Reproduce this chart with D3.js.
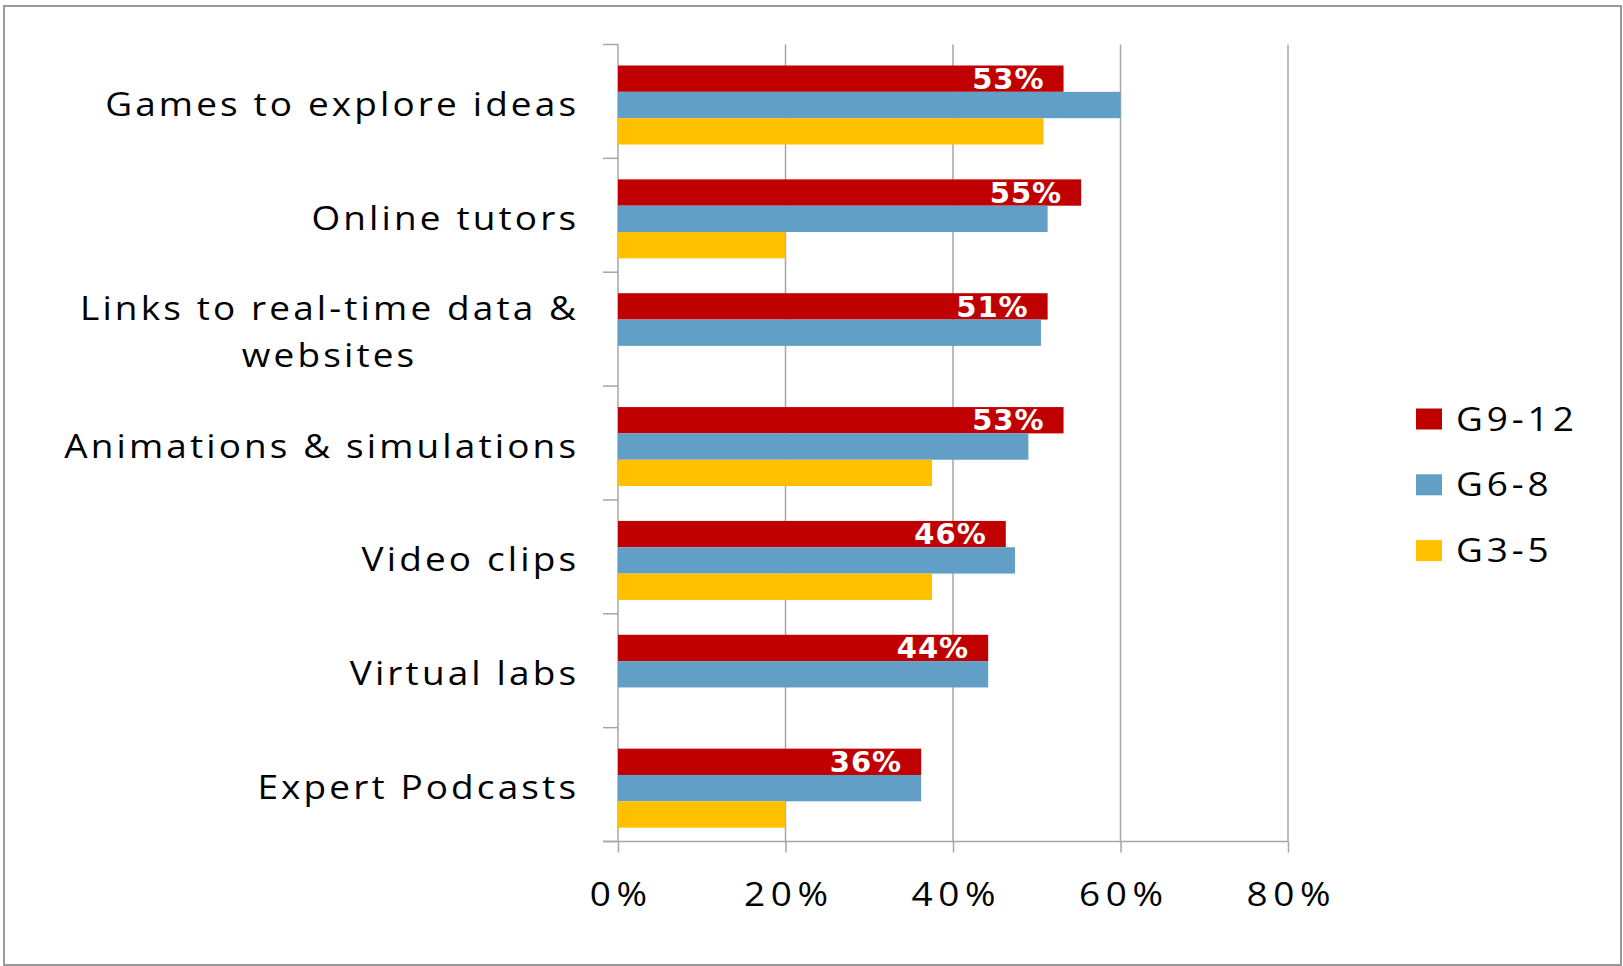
<!DOCTYPE html>
<html>
<head>
<meta charset="utf-8">
<script src="https://cdn.jsdelivr.net/npm/d3@7/dist/d3.min.js"></script>
<style>
  html, body { margin: 0; padding: 0; background: #fff; }
  svg { display: block; }
  .lbl { font-family: "Open Sans", "Noto Sans", sans-serif; fill: #000; }
</style>
</head>
<body>
<script>
// chart values
var categories = ["Games to explore ideas", "Online tutors", "Links to real-time data & websites",
  "Animations & simulations", "Video clips", "Virtual labs", "Expert Podcasts"];
var seriesNames = ["G9-12", "G6-8", "G3-5"];
var seriesColors = ["#c00000", "#619fc6", "#ffc000"];
var g912 = [0.532, 0.553, 0.513, 0.532, 0.463, 0.442, 0.362];
var g68 = [0.60, 0.513, 0.505, 0.49, 0.474, 0.442, 0.362];
var g35 = [0.508, 0.20, null, 0.375, 0.375, null, 0.20];
var xTicks = [0, 0.2, 0.4, 0.6, 0.8];

var W = 1623, H = 966;
var plotLeft = 618, plotRight = 1288, plotTop = 44.5, plotBottom = 841.5;
var gridColor = "#a6a6a6";
var stretch = 1.12; // text in the original is drawn a little wide

var svg = d3.select("body").append("svg")
    .attr("width", W)
    .attr("height", H);

// outer frame
svg.append("rect")
    .attr("x", 4).attr("y", 6)
    .attr("width", W - 6).attr("height", H - 7)
    .attr("fill", "none")
    .attr("stroke", "#9a9a9a")
    .attr("stroke-width", 2);

var x = d3.scaleLinear().domain([0, 0.8]).range([plotLeft, plotRight]);
var y = d3.scaleBand().domain(categories).range([plotTop, plotBottom]);
var inner = d3.scaleBand().domain(seriesNames).range([21, 100]);

// vertical gridlines
svg.append("g").selectAll("line")
    .data(xTicks.slice(1))
  .enter().append("line")
    .attr("x1", function(d) { return x(d); })
    .attr("x2", function(d) { return x(d); })
    .attr("y1", plotTop).attr("y2", plotBottom)
    .attr("stroke", gridColor).attr("stroke-width", 1.5);

// x axis
var xAxis = svg.append("g")
    .attr("transform", "translate(0," + plotBottom + ")")
    .call(d3.axisBottom(x).tickValues(xTicks).tickFormat(d3.format(".0%")).tickSize(11).tickPadding(30));
xAxis.select(".domain").attr("stroke", gridColor).attr("stroke-width", 1.5)
    .attr("d", "M" + (plotLeft - 15) + ",0H" + plotRight);
xAxis.selectAll(".tick line").attr("stroke", gridColor).attr("stroke-width", 1.5);
xAxis.selectAll(".tick text")
    .attr("class", "lbl")
    .attr("font-size", 33)
    .attr("letter-spacing", 5)
    .attr("dx", 2.5)
    .attr("transform", "scale(" + stretch + ",1)")
    .attr("fill", "#000");

// y axis line + ticks at band edges
var yEdges = categories.map(function(c) { return y(c); }).concat([plotBottom]);
svg.append("line")
    .attr("x1", plotLeft).attr("x2", plotLeft)
    .attr("y1", plotTop).attr("y2", plotBottom)
    .attr("stroke", gridColor).attr("stroke-width", 1.5);
svg.append("g").selectAll("line")
    .data(yEdges)
  .enter().append("line")
    .attr("x1", plotLeft - 15).attr("x2", plotLeft)
    .attr("y1", function(d) { return d; }).attr("y2", function(d) { return d; })
    .attr("stroke", gridColor).attr("stroke-width", 1.5);

// bars
var seriesData = [g912, g68, g35];
var bars = [];
categories.forEach(function(c, i) {
  seriesNames.forEach(function(s, j) {
    var v = seriesData[j][i];
    if (v != null) bars.push({cat: c, series: s, color: seriesColors[j], value: v});
  });
});

svg.append("g").selectAll("rect")
    .data(bars)
  .enter().append("rect")
    .attr("x", x(0))
    .attr("y", function(d) { return y(d.cat) + inner(d.series); })
    .attr("width", function(d) { return x(d.value) - x(0); })
    .attr("height", inner.bandwidth())
    .attr("fill", function(d) { return d.color; });

// data labels on the G9-12 bars
svg.append("g").selectAll("text")
    .data(bars.filter(function(d) { return d.series === "G9-12"; }))
  .enter().append("text")
    .attr("x", function(d) { return x(d.value) - 19; })
    .attr("y", function(d) { return y(d.cat) + inner(d.series) + inner.bandwidth() - 3; })
    .attr("text-anchor", "end")
    .attr("font-family", "DejaVu Sans, sans-serif")
    .attr("font-weight", "bold")
    .attr("font-size", 29)
    .attr("letter-spacing", 1)
    .attr("fill", "#fff")
    .text(function(d) { return Math.round(d.value * 100) + "%"; });

// category labels, wrapped and centered as a block, right edge at the axis
var labelRight = 576, maxW = 490, lineH = 47.6, ls = 2.8;
var catG = svg.append("g");
categories.forEach(function(c) {
  var cy = y(c) + y.bandwidth() / 2 + 3;
  var g = catG.append("g")
      .attr("transform", "translate(" + labelRight + "," + cy + ") scale(" + stretch + ",1)");
  var t = g.append("text").attr("class", "lbl")
      .attr("font-size", 33).attr("letter-spacing", ls);
  var words = c.split(" "), lines = [], cur = [];
  words.forEach(function(w) {
    cur.push(w);
    t.text(cur.join(" "));
    if (t.node().getComputedTextLength() > maxW && cur.length > 1) {
      cur.pop();
      lines.push(cur.join(" "));
      cur = [w];
    }
  });
  lines.push(cur.join(" "));
  t.text(null);
  var widths = lines.map(function(l) {
    t.text(l);
    var wv = t.node().getComputedTextLength() - ls;
    t.text(null);
    return wv;
  });
  var blockW = d3.max(widths);
  lines.forEach(function(l, k) {
    t.append("tspan")
        .attr("x", -blockW / 2 + ls / 2)
        .attr("y", (k - (lines.length - 1) / 2) * lineH)
        .attr("dy", "0.35em")
        .attr("text-anchor", "middle")
        .text(l);
  });
});

// legend
var legend = svg.append("g").selectAll("g")
    .data(seriesNames)
  .enter().append("g")
    .attr("transform", function(d, i) { return "translate(1416," + (419 + i * 65.8) + ")"; });
legend.append("rect")
    .attr("x", 0).attr("y", -10.5)
    .attr("width", 26).attr("height", 21)
    .attr("fill", function(d, i) { return seriesColors[i]; });
legend.append("text").attr("class", "lbl")
    .attr("transform", "translate(40,0) scale(" + stretch + ",1)")
    .attr("dy", "0.35em")
    .attr("font-size", 33)
    .attr("letter-spacing", 3.5)
    .text(function(d) { return d; });
</script>
</body>
</html>
